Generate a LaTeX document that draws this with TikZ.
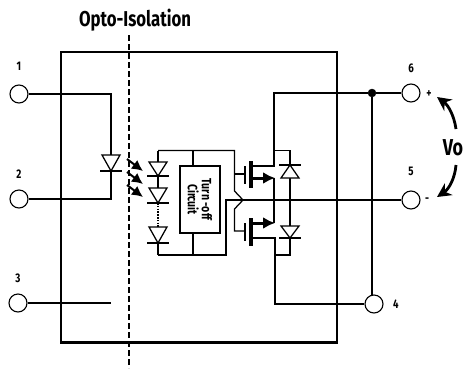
\documentclass[tikz,border=0pt]{standalone}
\usepackage{fontspec}
\setmainfont[FakeStretch=0.78]{Fira Sans}
\usetikzlibrary{arrows.meta}
\def\diode(#1,#2,#3){\draw[wire,fill=white] ({#1-9},#2) -- ({#1+9},#2) -- (#1,#3) -- cycle; \draw[wire] ({#1-11},#3) -- ({#1+11},#3);}
\tikzset{
	wire/.style={line width=1.25pt},
	wall/.style={line width=2.2pt},
	terminal/.style={draw,circle,line width=1.1pt,minimum size=18pt,inner sep=0pt,fill=white},
	pinlabel/.style={font=\fontseries{b}\fontsize{12.5}{12.5}\selectfont,inner sep=0pt},
	bar/.style={line width=3.6pt},
	lightarrow/.style={line width=2pt,-{Latex[length=11pt,width=11pt]}},
	voarrow/.style={line width=2.8pt,-{Stealth[length=14pt,width=14pt]}}
}

\begin{document}
\begin{tikzpicture}[x=1pt,y=-1pt]
	\useasboundingbox (0,0) rectangle (464,368);
	%%%%% OUTER BOX %%%%%
	\draw[wall] (61,52) rectangle (337,342.5);
	\draw[line width=2.2pt,dash pattern=on 5.5pt off 3.5pt] (129,35) -- (129,368);
	
	%%%%% TERMINALS %%%%%
	\node[terminal] (t1) at (19,94) {};
	\node[terminal] (t2) at (19,199) {};
	\node[terminal] (t3) at (18,303) {};
	\node[terminal] (t4) at (374,304) {};
	\node[terminal] (t5) at (411,200) {};
	\node[terminal] (t6) at (411,93) {};
	\node[draw,circle,fill=black,minimum size=8pt,inner sep=0pt] (dot) at (372,93) {};
	
	\node[pinlabel] (l1) at (19,66) {1};
	\node[pinlabel] (l2) at (19,174) {2};
	\node[pinlabel] (l3) at (18,278) {3};
	\node[pinlabel] (l4) at (396,304) {4};
	\node[pinlabel] (l5) at (411,171) {5};
	\node[pinlabel] (l6) at (411,68) {6};
	\node[pinlabel] (plus) at (429,94) {+};
	\node[pinlabel] (minus) at (427,200) {-};
	
	%%%%% INPUT SIDE %%%%%
	\coordinate (in) at (111,94);
	\coordinate (out) at (111,199);
	\coordinate (free) at (111,303);
	\draw[wire] (t1) -- (in) -- (out) -- (t2);
	\draw[wire] (t3) -- (free);
	\diode(111,155,171)
	
	\draw[lightarrow] (127,159) -- (143,171);
	\draw[lightarrow] (127,172) -- (143,184);
	\draw[lightarrow] (127,185) -- (143,197);
	
	%%%%% DIODE STACK %%%%%
	\coordinate (stacktop) at (158,150.5);
	\coordinate (stackend) at (158,255);
	\draw[wire] (stacktop) -- (158,203);
	\draw[line width=2pt,dash pattern=on 1.6pt off 1.2pt] (158,203) -- (158,227);
	\draw[wire] (158,243) -- (stackend);
	\diode(158,162,176)
	\diode(158,188,203)
	\diode(158,227,243)
	
	\node[draw,wire,minimum width=40pt,minimum height=67pt,inner sep=0pt] (circuit) at (200,199.5) {};
	\node[rotate=-90,align=center,inner sep=0pt,font=\fontseries{b}\fontsize{13.5}{14}\selectfont] (circuittext) at (200,199.5) {Turn -off\\Circuit};
	\draw[wire] (193,150.5) -- (193,166);
	\draw[wire] (193,233) -- (193,255);
	
	%%%%% GATE RUN AND RETURN %%%%%
	\draw[wire] (stacktop) -- (234.5,150.5) -- (234.5,191) -- (243,200) -- (234.5,209) -- (234.5,231) -- (245,231);
	\draw[wire] (234.5,174) -- (245,174);
	\draw[wire] (stackend) -- (226,255) -- (226,200) -- (t5);
	
	%%%%% MOSFETS %%%%%
	\draw[wire] (245,166) -- (245,184);
	\draw[bar] (251,161) -- (251,188);
	\draw[wire] (251,166) -- (274,166) -- (274,93) -- (dot);
	\draw[wire] (dot) -- (t6);
	\draw[line width=3pt,-{Latex[length=12pt,width=12pt]}] (251,178) -- (275,178);
	\draw[wire] (274,178) -- (274,223);
	
	\draw[wire] (245,223) -- (245,241);
	\draw[bar] (251,218) -- (251,246);
	\draw[line width=3pt,-{Latex[length=12pt,width=12pt]}] (251,223) -- (275,223);
	\draw[wire] (251,238) -- (275,238) -- (275,304) -- (t4);
	
	%%%%% FLYBACK DIODES %%%%%
	\draw[wire] (274,150.5) -- (290,150.5) -- (290,255) -- (275,255);
	\diode(290,178,165)
	\diode(290,226,238)
	\draw[wire] (dot) -- (372,295);
	
	%%%%% TEXT AND VOLTAGE %%%%%
	\node[inner sep=0pt,font=\fontseries{b}\fontsize{21.5}{21.5}\selectfont] (title) at (135,20) {Opto-Isolation};
	\node[inner sep=0pt,font=\fontseries{b}\fontsize{23}{23}\selectfont] (vo) at (453,148) {Vo};
	\coordinate (vp) at (437,97);
	\coordinate (vm) at (437,197);
	\draw[voarrow] (456,129) .. controls (454,115) and (448,105) .. (vp);
	\draw[voarrow] (456,165) .. controls (455,178) and (449,189) .. (vm);
\end{tikzpicture}
\end{document}
